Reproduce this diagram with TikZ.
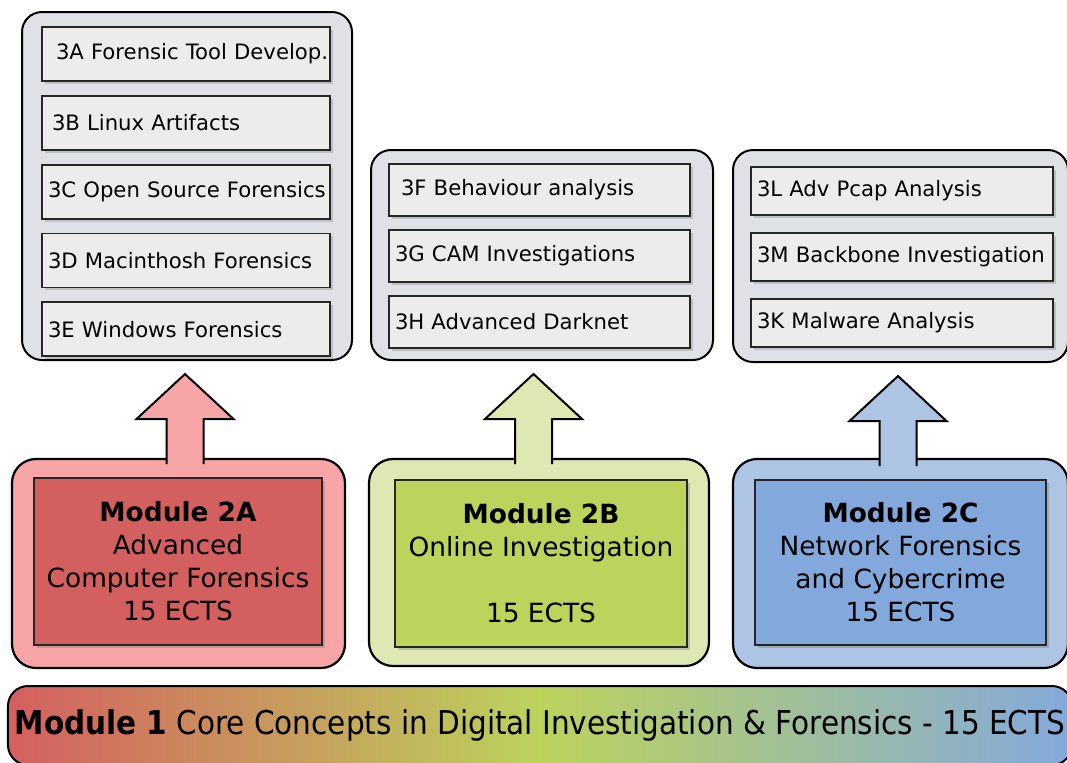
\documentclass[tikz,border=0pt]{standalone}
\usepackage{fontspec}
\setmainfont{DejaVu Sans}
\newfontfamily\condfont{DejaVu Sans Condensed}
\usepackage{tikz}
\usetikzlibrary{positioning}
\usetikzlibrary{calc}
\usetikzlibrary{shadows}

\definecolor{grpfill}{HTML}{DFE1E6}
\definecolor{boxfill}{HTML}{ECECEC}
\definecolor{redout}{HTML}{F8A5A8}
\definecolor{redin}{HTML}{D45F5F}
\definecolor{greenout}{HTML}{DEE8B2}
\definecolor{greenin}{HTML}{BCD35C}
\definecolor{blueout}{HTML}{AEC4E5}
\definecolor{bluein}{HTML}{83A9DC}

\begin{document}
\begin{tikzpicture}[
  x=0.5pt,y=-0.5pt,
  group/.style={draw,rounded corners=10pt,fill=grpfill,line width=1pt},
  course/.style={draw=black!85,fill=boxfill,line width=0.9pt,align=left,inner xsep=3pt,
    font=\fontsize{10.6}{12}\selectfont,
    drop shadow={shadow xshift=1.5pt,shadow yshift=-1.5pt,opacity=.35}},
  outer/.style={draw,rounded corners=12pt,line width=1.1pt},
  module/.style={draw=black!85,line width=0.9pt,align=center,
    font=\fontsize{13.2}{16.5}\selectfont,
    drop shadow={shadow xshift=1.5pt,shadow yshift=-1.5pt,opacity=.4}},
  up/.style={draw,line width=1pt}]
      \tikzstyle{every node}=[text=black]

      \useasboundingbox (0,0) rectangle (1067,762);

      % third year courses
      \node [group,minimum width=165pt,minimum height=174pt] (G1) at (187,186) {};
      \begin{scope}[node distance=6.5pt,every node/.append style={text width=138pt,minimum height=27pt}]
	\node [course] (c3A) at (186,54) {\mbox{\hspace{4pt}3A Forensic Tool Develop.}};
	\node [course,below=of c3A] (c3B) {\mbox{\hspace{2pt}3B Linux Artifacts}};
	\node [course,below=of c3B] (c3C) {\mbox{3C Open Source Forensics}};
	\node [course,below=of c3C] (c3D) {3D Macinthosh Forensics};
	\node [course,below=of c3D] (c3E) {3E Windows Forensics};
      \end{scope}

      \node [group,minimum width=171pt,minimum height=105pt] (G2) at (542,255) {};
      \begin{scope}[node distance=6pt,every node/.append style={text width=144.5pt,minimum height=26pt}]
	\node [course] (c3F) at (539.5,190) {\mbox{\hspace{3pt}3F Behaviour analysis}};
	\node [course,below=of c3F] (c3G) {3G CAM Investigations};
	\node [course,below=of c3G] (c3H) {3H Advanced Darknet};
      \end{scope}

      \node [group,minimum width=167.5pt,minimum height=106pt] (G3) at (900.5,256) {};
      \begin{scope}[node distance=8pt,every node/.append style={text width=145pt,minimum height=24pt}]
	\node [course] (c3L) at (902,191) {3L Adv Pcap Analysis};
	\node [course,below=of c3L] (c3M) {\mbox{3M Backbone Investigation}};
	\node [course,below=of c3M] (c3K) {3K Malware Analysis};
      \end{scope}

      % second year modules
      \node [outer,fill=redout,minimum width=166.5pt,minimum height=104.5pt] (O2A) at (178.5,563.5) {};
      \node [outer,fill=greenout,minimum width=170pt,minimum height=103.5pt] (O2B) at (539,562.5) {};
      \node [outer,fill=blueout,minimum width=167.5pt,minimum height=104.5pt] (O2C) at (900.5,563.5) {};

      \foreach \g/\dx/\col in {G1/-2/redout,G2/-8.5/greenout,G3/-2.5/blueout}{
	\coordinate (tip) at ($(\g.south)+(\dx,13)$);
	\draw [up,fill=\col] ($(tip)+(-18.5,90)$) -- ($(tip)+(-18.5,45)$) -- ($(tip)+(-48.5,45)$)
	  -- (tip) -- ($(tip)+(48.5,45)$) -- ($(tip)+(18.5,45)$) -- ($(tip)+(18.5,90)$);
      }

      \node [module,fill=redin,minimum width=144pt,minimum height=83.5pt] (M2A) at (178,561.5)
	{\textbf{Module 2A}\\Advanced\\Computer Forensics\\15 ECTS};
      \node [module,fill=greenin,minimum width=146pt,minimum height=83.5pt] (M2B) at (541,563.5)
	{\textbf{Module 2B}\\Online Investigation\\ \\15 ECTS};
      \node [module,fill=bluein,minimum width=145.5pt,minimum height=82.5pt] (M2C) at (900.5,562.5)
	{\textbf{Module 2C}\\Network Forensics\\and Cybercrime\\15 ECTS};

      % first year
      \node [draw,rounded corners=10pt,line width=1pt,left color=redin,right color=bluein,middle color=greenin,
	minimum width=528pt,minimum height=39.5pt,font=\condfont\fontsize{16.4}{18}\selectfont] (M1) at (540,725.5)
	{\textbf{Module 1} Core Concepts in Digital Investigation \& Forensics - 15 ECTS};

\end{tikzpicture}
\end{document}
